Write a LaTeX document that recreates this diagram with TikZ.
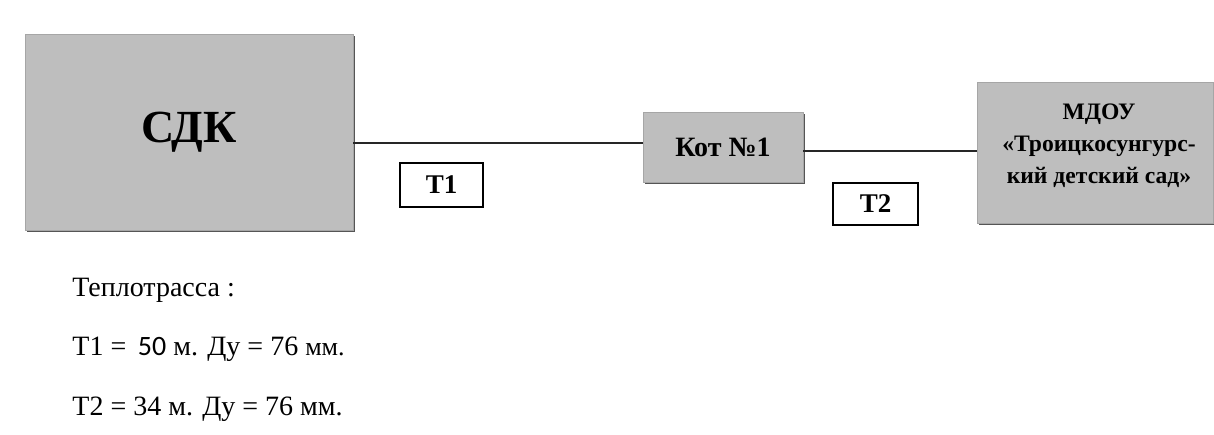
\documentclass[tikz,border=0pt]{standalone}
\usepackage{fontspec}
\setmainfont{Liberation Serif}
\newfontfamily\calib{Carlito}
\usetikzlibrary{shadows}
\definecolor{boxgray}{RGB}{190,190,190}
\definecolor{shadowgray}{RGB}{85,85,85}
\begin{document}
\begin{tikzpicture}[x=0.5pt,y=-0.5pt,
  graybox/.style={fill=boxgray, draw=gray!70, line width=0.3pt, inner sep=0pt, align=center,
    drop shadow={shadow xshift=1.2pt, shadow yshift=-1.2pt, fill=shadowgray, opacity=1}},
  boxtext/.style={inner sep=0pt, align=center},
  labelbox/.style={draw=black, line width=0.6pt, fill=white, inner sep=0pt, font=\bfseries\fontsize{13.5}{15}\selectfont},
  bodytext/.style={anchor=base west, inner sep=0pt, font=\fontsize{14}{16}\selectfont},
  pipe/.style={line width=1.1pt, draw=black!85}]
\useasboundingbox[fill=white] (0,0) rectangle (1214,434);
\node[graybox, minimum width=164pt, minimum height=98pt, font=\bfseries\fontsize{23}{27}\selectfont] (sdk) at (189,132) {СДК};
\node[graybox, minimum width=80pt, minimum height=35pt, font=\bfseries\fontsize{14}{16}\selectfont] (kot) at (723,147) {Кот №1};
\node[graybox, minimum width=118pt, minimum height=70.5pt] (mdou) at (1095,152.5) {};
\node[boxtext, font=\bfseries\fontsize{11.8}{16}\selectfont] (mdoutext) at (1099,146) {МДОУ\\«Троицкосунгурс-\\кий детский сад»};
\coordinate (a1) at (sdk.east |- 0,143);
\coordinate (a2) at (kot.west |- 0,143);
\coordinate (b1) at (kot.east |- 0,151);
\coordinate (b2) at (mdou.west |- 0,151);
\draw[pipe] (a1) -- (a2);
\draw[pipe] (b1) -- (b2);
\node[labelbox, minimum width=41.5pt, minimum height=22pt] (t1) at (441.5,185) {Т1};
\node[labelbox, minimum width=42.5pt, minimum height=21pt] (t2) at (875.5,204) {Т2};
\node[bodytext] (h) at (72,296) {Теплотрасса :};
\node[bodytext] (l1) at (72,355) {Т1 = \,{\calib 50} м. Ду = 76 {\fontsize{13}{15}\selectfont мм.}};
\node[bodytext] (l2) at (72,415) {Т2 = 34 м. Ду = 76 мм.};
\end{tikzpicture}
\end{document}
